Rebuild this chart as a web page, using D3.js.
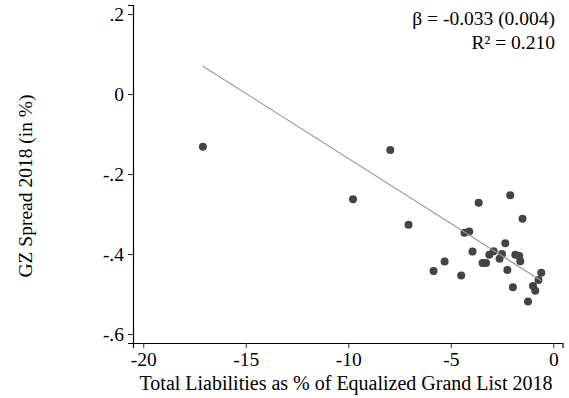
<!DOCTYPE html>
<html>
<head>
<meta charset="utf-8">
<script src="https://cdn.jsdelivr.net/npm/d3@7"></script>
<style>
  body { margin: 0; background: #fff; }
  svg { display: block; font-family: "Liberation Serif", "Times New Roman", serif; }
</style>
</head>
<body>
<svg id="chart" width="569" height="398"></svg>
<script>
// liabilities (% of equalized grand list) vs GZ spread
const liabilities = [-17.09, -7.95, -9.77, -7.06, -2.10, -3.64, -1.50, -4.33, -4.10, -2.34,
  -3.94, -2.91, -3.12, -2.50, -2.62, -1.85, -1.66, -1.61, -3.45, -3.28,
  -5.30, -5.84, -2.24, -4.49, -0.585, -0.72, -0.99, -0.88, -1.97, -1.23];
const gzSpread = [-0.132, -0.140, -0.263, -0.327, -0.253, -0.272, -0.312, -0.347, -0.344, -0.373,
  -0.394, -0.393, -0.402, -0.400, -0.412, -0.402, -0.405, -0.418, -0.4225, -0.4225,
  -0.419, -0.4425, -0.440, -0.454, -0.447, -0.465, -0.480, -0.492, -0.483, -0.519];

const xTicks = [-20, -15, -10, -5, 0];
const yTicks = [-0.6, -0.4, -0.2, 0, 0.2];
const fitSlope = -0.0325;
const fitIntercept = -0.486;
const statLines = ['β = -0.033 (0.004)', 'R² = 0.210'];

const svg = d3.select('#chart');
const fs = 19.5;

const x = d3.scaleLinear().domain([-20.5, 0.45]).range([133, 562.5]);
const y = d3.scaleLinear().domain([-0.6225, 0.2225]).range([343, 5]);

// stata style labels: plain hyphen, no leading zero
const fmtX = v => String(v);
const fmtY = v => v === 0 ? '0' : String(v).replace('0.', '.');

// axes
const xAxis = svg.append('g')
  .attr('transform', `translate(0,${y.range()[0]})`)
  .call(d3.axisBottom(x).tickValues(xTicks).tickFormat(fmtX).tickSizeOuter(0).tickSize(5).tickPadding(4));
const yAxis = svg.append('g')
  .attr('transform', `translate(${x.range()[0]},0)`)
  .call(d3.axisLeft(y).tickValues(yTicks).tickFormat(fmtY).tickSizeOuter(0).tickSize(5).tickPadding(4));

[xAxis, yAxis].forEach(a => {
  a.select('.domain').attr('stroke', '#000').attr('stroke-width', 1.2);
  a.selectAll('.tick line').attr('stroke', '#333');
  a.selectAll('.tick text').attr('font-size', fs).attr('font-family', 'Liberation Serif').attr('fill', '#000');
});

// points
const pts = liabilities.map((v, i) => [v, gzSpread[i]]);
svg.append('g').selectAll('circle')
  .data(pts)
  .enter()
  .append('circle')
  .attr('cx', d => x(d[0]))
  .attr('cy', d => y(d[1]))
  .attr('r', 4)
  .attr('fill', '#444');

// fitted line
const xr = d3.extent(liabilities);
svg.append('line')
  .attr('x1', x(xr[0])).attr('y1', y(fitIntercept + fitSlope * xr[0]))
  .attr('x2', x(xr[1])).attr('y2', y(fitIntercept + fitSlope * xr[1]))
  .attr('stroke', '#9a9a9a')
  .attr('stroke-width', 1.2);

// stats
svg.append('g').selectAll('text')
  .data(statLines)
  .enter()
  .append('text')
  .attr('x', 555)
  .attr('y', (d, i) => 25 + i * 24)
  .attr('text-anchor', 'end')
  .attr('font-size', fs)
  .text(d => d);

// titles
svg.append('text')
  .attr('x', 346)
  .attr('y', 390)
  .attr('text-anchor', 'middle')
  .attr('font-size', 20)
  .text('Total Liabilities as % of Equalized Grand List 2018');

svg.append('text')
  .attr('transform', 'translate(32,186) rotate(-90)')
  .attr('text-anchor', 'middle')
  .attr('font-size', fs)
  .text('GZ Spread 2018 (in %)');
</script>
</body>
</html>
